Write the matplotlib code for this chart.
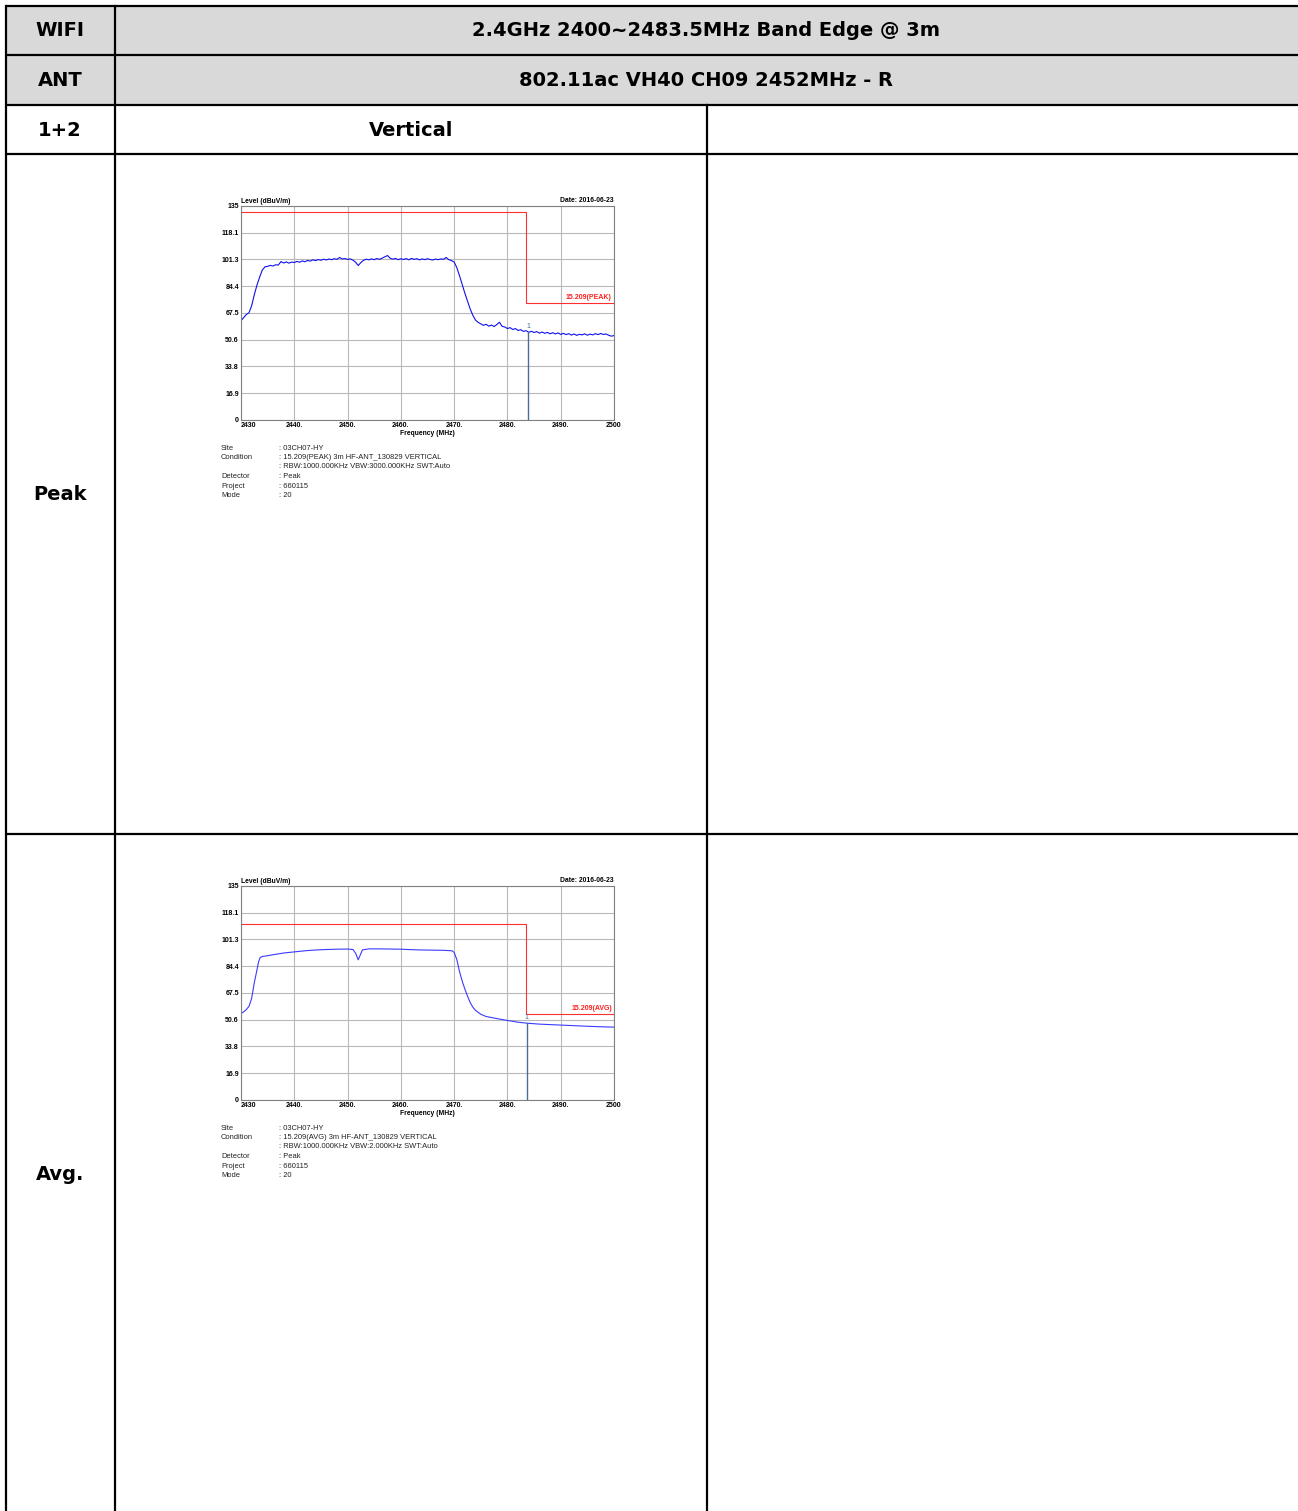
import matplotlib
matplotlib.use("Agg")
import matplotlib.pyplot as plt

W, H = 1298, 1511

# header texts
head_left = ["WIFI", "ANT", "1+2", "Peak", "Avg."]
head_title = "2.4GHz 2400~2483.5MHz Band Edge @ 3m"
head_mode = "802.11ac VH40 CH09 2452MHz - R"
head_pol = "Vertical"

# chart axis settings
x_ticks = [2430, 2440, 2450, 2460, 2470, 2480, 2490, 2500]
x_labels = ["2430", "2440.", "2450.", "2460.", "2470.", "2480.", "2490.", "2500"]
y_ticks = [0, 16.9, 33.8, 50.6, 67.5, 84.4, 101.3, 118.1, 135]
y_labels = ["0", "16.9", "33.8", "50.6", "67.5", "84.4", "101.3", "118.1", "135"]

# peak trace, sweep points every 0.5 MHz
peak_freq = [2430 + 0.5 * i for i in range(141)]
peak_level = [62.5, 64.5, 66.5, 67.5, 72.0, 79.0, 85.0, 90.0, 94.5, 96.5,
              96.8, 97.4, 97.0, 97.8, 97.6, 99.8, 98.9, 99.6, 98.8, 99.5,
              99.2, 99.9, 99.4, 100.2, 99.7, 100.5, 100.1, 100.9, 100.4, 101.1,
              100.6, 101.3, 100.8, 101.4, 101.0, 101.6, 101.2, 102.4, 101.4, 101.7,
              101.2, 101.5, 100.7, 99.4, 97.3, 99.2, 100.6, 101.3, 100.9, 101.5,
              101.0, 101.7, 101.2, 102.0, 102.8, 103.6, 101.9, 101.3, 101.8, 101.0,
              101.6, 101.1, 101.7, 100.9, 101.8, 101.2, 101.6, 100.9, 101.5, 101.0,
              101.6, 101.1, 100.8, 101.4, 101.0, 101.5, 101.2, 102.4, 101.0, 100.4,
              99.5, 96.0, 91.0, 85.5, 80.0, 75.0, 70.0, 66.0, 63.0, 61.5,
              60.6, 59.6, 60.3, 59.1, 59.8, 58.9, 60.1, 61.6, 59.0, 58.6,
              57.6, 58.2, 57.0, 57.6, 56.4, 56.9, 55.8, 56.3, 55.2, 55.9,
              55.1, 55.7, 54.7, 55.4, 54.6, 55.2, 54.3, 55.0, 54.2, 54.9,
              53.9, 54.6, 53.8, 54.4, 53.5, 54.2, 53.3, 54.0, 53.6, 54.3,
              53.4, 54.1, 53.6, 54.4, 53.8, 54.5, 53.9, 54.2, 53.4, 52.8,
              53.2]

# average trace
avg_freq = [2430, 2430.5, 2431, 2431.5, 2432, 2432.5, 2433, 2433.3, 2433.6, 2434,
            2435, 2436, 2438, 2440, 2442, 2444, 2446, 2448, 2450, 2451,
            2451.5, 2452, 2452.4, 2452.8, 2454, 2456, 2458, 2460, 2462, 2464,
            2466, 2468, 2469.6, 2470, 2470.5, 2471, 2471.5, 2472, 2472.5, 2473,
            2473.5, 2474, 2475, 2476, 2478, 2480, 2482, 2483.6, 2486, 2490,
            2494, 2497, 2500]
avg_level = [54.6, 55.5, 57.0, 59.0, 64.0, 74.0, 82.0, 87.0, 89.8, 90.4,
             90.9, 91.5, 92.6, 93.3, 94.0, 94.5, 94.8, 95.0, 95.1, 94.8,
             92.5, 88.3, 91.5, 94.6, 95.2, 95.2, 95.1, 95.0, 94.7, 94.5,
             94.4, 94.3, 94.0, 93.0, 88.5, 81.0, 75.0, 70.0, 65.5, 61.5,
             58.5, 56.5, 54.0, 52.6, 51.3, 50.1, 49.0, 48.4, 47.8, 47.2,
             46.6, 46.2, 45.9]

band_edge = 2483.5
peak_limits = [131.0, 74.0]
avg_limits = [111.0, 54.0]
peak_marker = (2483.9, 55.4)
avg_marker = (2483.6, 48.4)

info_keys = ["Site", "Condition", "", "Detector", "Project", "Mode"]
peak_info = [": 03CH07-HY", ": 15.209(PEAK) 3m HF-ANT_130829 VERTICAL",
             ": RBW:1000.000KHz VBW:3000.000KHz SWT:Auto", ": Peak", ": 660115", ": 20"]
avg_info = [": 03CH07-HY", ": 15.209(AVG) 3m HF-ANT_130829 VERTICAL",
            ": RBW:1000.000KHz VBW:2.000KHz SWT:Auto", ": Peak", ": 660115", ": 20"]

plt.rcParams['font.family'] = ['Liberation Sans', 'DejaVu Sans']

fig = plt.figure(figsize=(W / 100, H / 100), dpi=100)
bg = fig.add_axes([0, 0, 1, 1])
bg.set_xlim(0, W)
bg.set_ylim(H, 0)
bg.axis("off")

# table
gray = "#d9d9d9"
bg.fill_between([6, W], 6, 105, color=gray, lw=0)
lw = 1.6
for y in [6, 55, 105, 154, 834]:
    bg.plot([6, W], [y, y], color="black", lw=lw, solid_capstyle="butt")
bg.plot([6, 6], [6, H], color="black", lw=lw)
bg.plot([115, 115], [6, H], color="black", lw=lw)
bg.plot([707, 707], [105, H], color="black", lw=lw)

big = dict(fontsize=14, fontweight="bold", ha="center", va="center",
           family="DejaVu Sans")
row_y = [31, 81, 130, 495, 1175]
for t, y in zip(head_left, row_y):
    bg.text(60, y, t, **big)
bg.text(706, 31, head_title, **big)
bg.text(706, 81, head_mode, **big)
bg.text(411, 130, head_pol, **big)


def draw_chart(top_px, freq, level, limits, lim_label, marker, info, trace_color):
    left, right, bottom = 241, 614, top_px + 214.3
    ax = fig.add_axes([left / W, 1 - bottom / H, (right - left) / W, 214.3 / H])
    ax.set_xlim(2430, 2500)
    ax.set_ylim(0, 135)
    ax.set_xticks(x_ticks)
    ax.set_xticklabels(x_labels)
    ax.set_yticks(y_ticks)
    ax.set_yticklabels(y_labels)
    ax.tick_params(length=0, labelsize=5, pad=1.5)
    for lab in ax.get_xticklabels() + ax.get_yticklabels():
        lab.set_fontweight("bold")
    ax.get_xticklabels()[0].set_horizontalalignment("left")
    ax.grid(True, color="#b8b8b8", lw=0.8)
    for s in ax.spines.values():
        s.set_color("#808080")
        s.set_linewidth(0.8)

    ax.step([2430, band_edge, 2500], [limits[0], limits[1], limits[1]],
            where="post", color="#ff3030", lw=0.8)
    ax.plot(freq, level, color=trace_color, lw=0.8)
    ax.plot([marker[0], marker[0]], [0, marker[1]], color="#4a6c9a", lw=1.0)
    ax.text(marker[0], marker[1] + 1.5, "1", color="#4a6c9a", fontsize=5,
            ha="center", va="bottom")
    ax.text(2499.6, limits[1] + 1.2, lim_label, color="#ff2020", fontsize=5,
            fontweight="bold", ha="right", va="bottom")

    ax.text(0, 1.005, "Level (dBuV/m)", transform=ax.transAxes, fontsize=4.9,
            fontweight="bold", ha="left", va="bottom")
    ax.text(1, 1.01, "Date: 2016-06-23", transform=ax.transAxes, fontsize=4.9,
            fontweight="bold", ha="right", va="bottom")
    ax.text(0.5, -0.065, "Frequency (MHz)", transform=ax.transAxes, fontsize=4.9,
            fontweight="bold", ha="center", va="center")

    y0 = bottom + 28
    for i, (k, v) in enumerate(zip(info_keys, info)):
        bg.text(221, y0 + i * 9.5, k, fontsize=5.4, va="center", color="#222222")
        bg.text(279, y0 + i * 9.5, v, fontsize=5.4, va="center", color="#222222")


draw_chart(205.7, peak_freq, peak_level, peak_limits, "15.209(PEAK)",
           peak_marker, peak_info, "#1010f0")
draw_chart(885.7, avg_freq, avg_level, avg_limits, "15.209(AVG)",
           avg_marker, avg_info, "#3a3aff")

fig.savefig("out.png", dpi=100)
